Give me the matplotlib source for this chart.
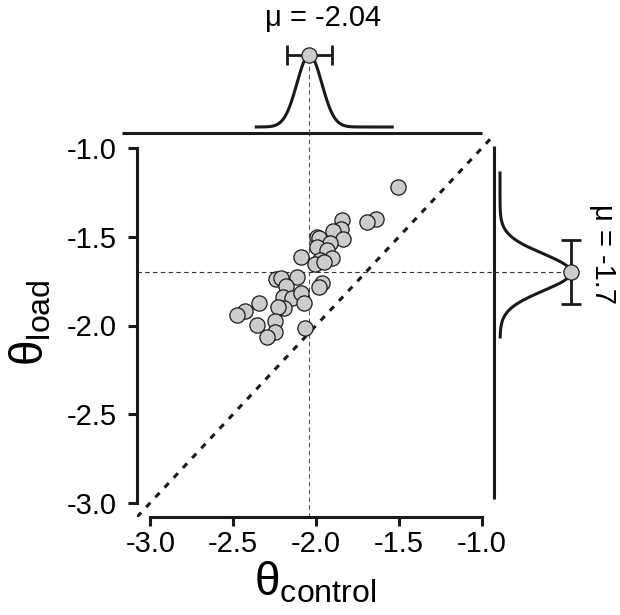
import matplotlib
matplotlib.use("Agg")
import matplotlib.pyplot as plt
import numpy as np

plt.rcParams["font.family"] = ["Liberation Sans", "DejaVu Sans"]
plt.rcParams["mathtext.fontset"] = "custom"
plt.rcParams["mathtext.rm"] = "Liberation Sans"

# per-subject estimates (control vs load)
theta_control = [-1.504, -1.640, -1.691, -1.843, -1.849, -1.899, -1.836, -1.996,
                 -1.980, -1.916, -1.992, -1.932, -2.090, -1.905, -1.976, -2.006,
                 -1.952, -2.241, -2.209, -2.113, -2.181, -1.964, -1.980, -2.201,
                 -2.146, -2.092, -2.072, -2.342, -2.193, -2.229, -2.430, -2.478,
                 -2.249, -2.354, -2.245, -2.297, -2.064]
theta_load = [-1.221, -1.400, -1.419, -1.406, -1.458, -1.469, -1.513, -1.500,
              -1.509, -1.537, -1.559, -1.575, -1.616, -1.621, -1.631, -1.654,
              -1.641, -1.740, -1.734, -1.728, -1.776, -1.759, -1.785, -1.841,
              -1.847, -1.819, -1.875, -1.875, -1.903, -1.894, -1.920, -1.939,
              -1.973, -1.999, -2.035, -2.063, -2.014]

# group-level posterior summaries
mu_control, sd_control, ci_control = -2.04, 0.075, 0.135
mu_load, sd_load, ci_load = -1.70, 0.105, 0.18
range_control = (-2.36, -1.54)
range_load = (-2.065, -1.14)

ticks = [-3.0, -2.5, -2.0, -1.5, -1.0]
lim = (-3.08, -0.92)

W, H = 620, 615
fig = plt.figure(figsize=(6.2, 6.15), dpi=100)

def frac(x0, y0, x1, y1):
    # pixel box -> figure fraction [left, bottom, width, height]
    return [x0 / W, 1 - y1 / H, (x1 - x0) / W, (y1 - y0) / H]

ink = "#1a1a1a"
fill = "#cccccc"
msize = 120

ax = fig.add_axes(frac(137, 134, 495, 517))
ax.set_xlim(lim)
ax.set_ylim(lim)
for s in ("top", "right"):
    ax.spines[s].set_visible(False)
for s in ("left", "bottom"):
    ax.spines[s].set_linewidth(2.2)
    ax.spines[s].set_color(ink)
    ax.spines[s].set_bounds(-3, -1)
ax.set_xticks(ticks)
ax.set_yticks(ticks)
ax.set_xticklabels([f"{t:.1f}" for t in ticks])
ax.set_yticklabels([f"{t:.1f}" for t in ticks])
ax.tick_params(direction="out", length=6.5, width=2.2, color=ink, labelsize=21)
ax.tick_params(axis="x", pad=3)
ax.tick_params(axis="y", pad=8)

ax.plot(lim, lim, color=ink, lw=2.2, dashes=(2, 2.4), zorder=1)
ax.plot([mu_control, mu_control], lim, color="#555555", lw=0.8, dashes=(4, 3), zorder=1)
ax.plot(lim, [mu_load, mu_load], color="#333333", lw=0.8, dashes=(4, 3), zorder=1)
ax.scatter(theta_control, theta_load, s=msize, facecolor=fill, edgecolor=ink,
           linewidth=0.9, zorder=3)

# top marginal
axt = fig.add_axes(frac(137, 40, 495, 133))
axt.set_xlim(lim)
axt.set_ylim(0, 93)
axt.axis("off")
gx = np.linspace(*range_control, 300)
gy = np.exp(-0.5 * ((gx - mu_control) / sd_control) ** 2)
axt.plot(gx, 6 + 72 * gy, color=ink, lw=2.2, clip_on=False)
axt.plot([-3.17, -1.0], [0, 0], color=ink, lw=2.2, clip_on=False, solid_capstyle="butt")
axt.plot([mu_control, mu_control], [0, 78], color="#555555", lw=0.8, dashes=(4, 3))
axt.errorbar([mu_control], [78], xerr=[ci_control], color=ink, lw=2.0,
             capsize=7, capthick=2.0, fmt="none", clip_on=False, zorder=3)
axt.scatter([mu_control], [78], s=msize, facecolor=fill, edgecolor=ink,
            linewidth=0.9, zorder=4, clip_on=False)

# right marginal
axr = fig.add_axes(frac(494, 134, 590, 517))
axr.set_ylim(lim)
axr.set_xlim(0, 96)
axr.axis("off")
ry = np.linspace(*range_load, 300)
rx = np.exp(-0.5 * ((ry - mu_load) / sd_load) ** 2)
axr.plot(6 + 71 * rx, ry, color=ink, lw=2.2, clip_on=False)
axr.plot([0, 0], [-2.98, -0.99], color=ink, lw=2.2, clip_on=False, solid_capstyle="butt")
axr.plot([0, 77], [mu_load, mu_load], color="#333333", lw=0.8, dashes=(4, 3))
axr.errorbar([77], [mu_load], yerr=[ci_load], color=ink, lw=2.0,
             capsize=7, capthick=2.0, fmt="none", clip_on=False, zorder=3)
axr.scatter([77], [mu_load], s=msize, facecolor=fill, edgecolor=ink,
            linewidth=0.9, zorder=4, clip_on=False)

fig.text(323 / W, 1 - 17.5 / H, f"\u03bc = {mu_control:.2f}", ha="center",
         va="center", fontsize=21)
fig.text(603 / W, 1 - 254 / H, f"\u03bc = {mu_load:.1f}", ha="center",
         va="center", fontsize=21, rotation=-90)

fig.text(315 / W, 1 - 583 / H, r"$\mathrm{\theta}_{\mathrm{control}}$",
         ha="center", va="center", fontsize=33)
fig.text(31 / W, 1 - 323 / H, r"$\mathrm{\theta}_{\mathrm{load}}$",
         ha="center", va="center", fontsize=33, rotation=90)

fig.savefig("out.png", dpi=100)
